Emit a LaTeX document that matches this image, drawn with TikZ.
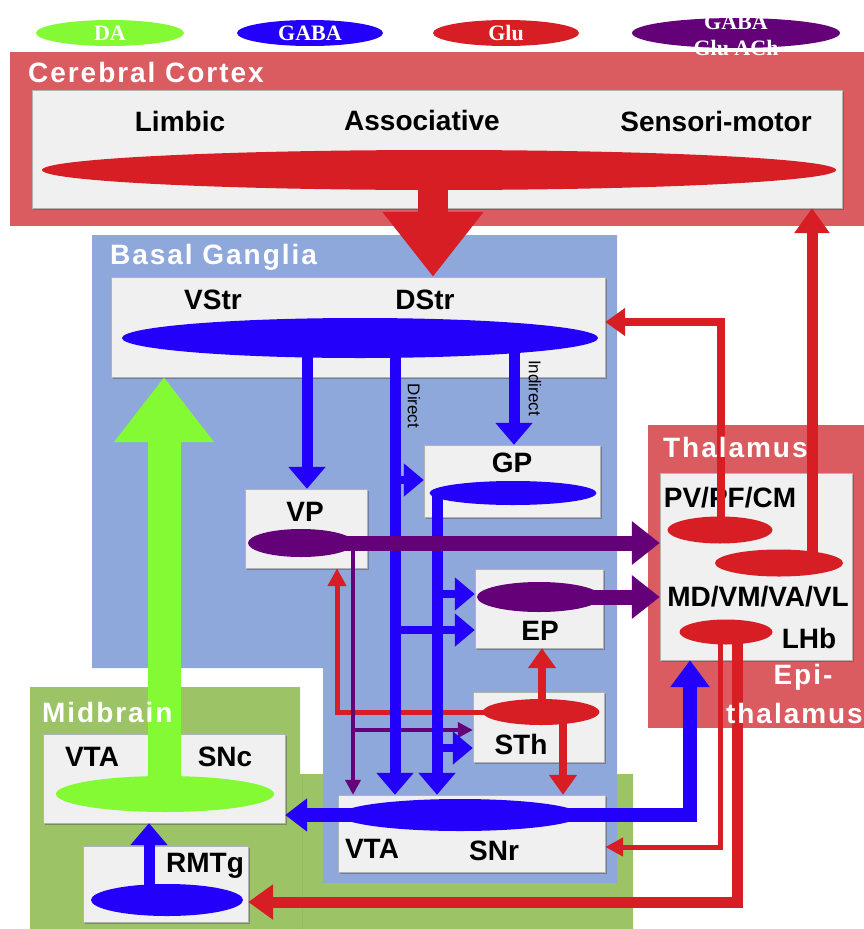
\documentclass[tikz,border=0pt]{standalone}
\usepackage{fontspec}
\setmainfont{Liberation Sans}
\newfontfamily\legfont{Liberation Serif}
\newfontfamily\regfont[LetterSpace=7]{Liberation Sans}
\usetikzlibrary{arrows.meta,shapes.geometric,shadows}
\definecolor{ctxred}{RGB}{218,92,96}
\definecolor{bgblue}{RGB}{143,168,220}
\definecolor{mbgreen}{RGB}{156,196,102}
\definecolor{boxgray}{RGB}{240,240,240}
\definecolor{glured}{RGB}{214,30,36}
\definecolor{gabablue}{RGB}{34,0,250}
\definecolor{mixpurple}{RGB}{100,0,120}
\definecolor{dagreen}{RGB}{132,250,52}

\begin{document}
\begin{tikzpicture}[x=1pt,y=-1pt,
  every node/.style={font=\fontsize{28}{28}\selectfont\bfseries,inner sep=0},
  region/.style={font=\regfont\fontsize{28}{28}\selectfont\bfseries,text=white,anchor=west},
  box/.style={draw=gray!60,fill=boxgray,drop shadow={shadow xshift=2pt,shadow yshift=-2pt,opacity=0.45,fill=black!70}},
  blob/.style={ellipse},
  legend/.style={ellipse,minimum height=26pt,font=\legfont\fontsize{22}{22}\selectfont\bfseries,text=white},
  pathlbl/.style={font=\fontsize{17}{17}\selectfont,rotate=-90},
  cortexArrow/.style={draw=glured,line width=30pt,-{Triangle[width=97pt,length=65pt]}},
  daArrow/.style={draw=dagreen,line width=33pt,-{Triangle[width=96pt,length=65pt]}},
  gabaArrow/.style={draw=gabablue,line width=11pt,-{Triangle[width=36pt,length=22pt]}},
  gabaBranch/.style={draw=gabablue,line width=8pt,-{Triangle[width=32pt,length=20pt]}},
  gabaWide/.style={draw=gabablue,line width=14pt,-{Triangle[width=38pt,length=27pt]}},
  mixArrow/.style={draw=mixpurple,line width=15pt,-{Triangle[width=42pt,length=28pt]}},
  mixThin/.style={draw=mixpurple,line width=4pt,-{Triangle[width=15pt,length=15pt]}},
  gluThin/.style={draw=glured,line width=5pt,-{Triangle[width=18pt,length=18pt]}},
  gluMid/.style={draw=glured,line width=8pt,-{Triangle[width=27pt,length=20pt]}},
  gluWide/.style={draw=glured,line width=11pt,-{Triangle[width=34pt,length=25pt]}}]
\useasboundingbox (0,0) rectangle (864,929);

% regions
\fill[ctxred] (10,52) rectangle (864,226);
\fill[mbgreen] (30,687) -- (300,687) -- (300,774) -- (633,774) -- (633,929) -- (30,929) -- cycle;
\draw[mbgreen!85!black,opacity=0.3] (302,774) -- (302,929);
\fill[bgblue] (92,235) -- (617,235) -- (617,883) -- (323,883) -- (323,668) -- (92,668) -- cycle;
\fill[ctxred] (648,425) rectangle (864,728);

% legend
\node[legend,fill=dagreen,minimum width=148pt] (lgDA) at (110,33) {DA};
\node[legend,fill=gabablue,minimum width=146pt] (lgGABA) at (310,33) {GABA};
\node[legend,fill=glured,minimum width=146pt] (lgGlu) at (506,33) {Glu};
\node[legend,fill=mixpurple,minimum width=208pt,minimum height=30pt] (lgMix) at (736,33) {};
\node[legend,minimum height=0pt] (lgMixA) at (736,22) {GABA};
\node[legend,minimum height=0pt] (lgMixB) at (736,48) {Glu ACh};

% boxes
\node[box,minimum width=810pt,minimum height=118pt] (ctx) at (437,149) {};
\node (lblLimbic) at (180,121) {Limbic};
\node (lblAssoc) at (422,120) {Associative};
\node (lblSensori) at (716,121) {Sensori-motor};

\node[box,minimum width=494pt,minimum height=100pt] (str) at (358,327) {};
\node (lblVStr) at (213,300) {VStr};
\node (lblDStr) at (425,300) {DStr};

\node[box,minimum width=122pt,minimum height=79pt] (vp) at (306,528.5) {};
\node (lblVP) at (305,512) {VP};
\node[box,minimum width=176pt,minimum height=72pt] (gp) at (512,481) {};
\node (lblGP) at (512,463) {GP};
\node[box,minimum width=128pt,minimum height=79pt] (ep) at (539,608.5) {};
\node (lblEP) at (540,631) {EP};
\node[box,minimum width=131pt,minimum height=70pt] (sth) at (538.5,727) {};
\node (lblSTh) at (521,744) {STh};
\node[box,minimum width=267pt,minimum height=77pt] (snr) at (471.5,833.5) {};
\node (lblVTAr) at (372,849) {VTA};
\node (lblSNr) at (494,851) {SNr};

\node[box,minimum width=242pt,minimum height=89pt] (vtasnc) at (164,778.5) {};
\node (lblVTAc) at (92,757) {VTA};
\node (lblSNc) at (225,757) {SNc};
\node[box,minimum width=165pt,minimum height=76pt] (rmtg) at (165.5,884) {};
\node (lblRMTg) at (205,866) {RMTg};

\node[box,minimum width=192pt,minimum height=187pt] (thal) at (756,566.5) {};
\node (lblPV) at (730,498) {PV/PF/CM};
\node (lblMD) at (758,597) {MD/VM/VA/VL};
\node (lblLHb) at (809,638) {LHb};

\node[pathlbl] (lblDirect) at (414,406) {Direct};
\node[pathlbl] (lblIndirect) at (535,388) {Indirect};

% junction points
\coordinate (jDirGP) at (395,480);
\coordinate (jGPEP) at (437,594);
\coordinate (jDirEP) at (395,630);
\coordinate (jGPSTh) at (437,748);
\coordinate (jVPSTh) at (353,730);
\coordinate (jPV) at (721,322);
\coordinate (jLHbA) at (720,847);
\coordinate (jLHbB) at (737,902);
\coordinate (jSNr) at (690,815);

% connectors
\draw[gluThin] (541,712) -- (337,712) -- (337,0 |- vp.south);
\draw[mixThin] (353,543) -- (353,0 |- snr.north);
\draw[mixThin] (jVPSTh) -- (sth.west |- jVPSTh);

\draw[gabaArrow] (307,338) -- (307,0 |- vp.north);
\draw[gabaArrow] (395,338) -- (395,0 |- snr.north);
\draw[gabaArrow] (514,338) -- (514,0 |- gp.north);
\draw[gabaArrow] (437,493) -- (437,0 |- snr.north);
\draw[gabaBranch] (jDirGP) -- (gp.west |- jDirGP);
\draw[gabaBranch] (jGPEP) -- (ep.west |- jGPEP);
\draw[gabaBranch] (jDirEP) -- (ep.west |- jDirEP);
\draw[gabaBranch] (jGPSTh) -- (sth.west |- jGPSTh);

\draw[mixArrow] (301,543) -- (thal.west |- 0,543);
\draw[mixArrow] (539,597) -- (thal.west |- 0,597);

\draw[gluMid] (542,712) -- (542,0 |- ep.south);
\draw[gluMid] (563,712) -- (563,0 |- snr.north);
\draw[gluMid] (721,530) -- (jPV) -- (str.east |- jPV);
\draw[gluWide] (812,563) -- (812,0 |- ctx.south);
\draw[gluThin] (720,632) -- (jLHbA) -- (snr.east |- jLHbA);
\draw[gluWide] (737,632) -- (jLHbB) -- (rmtg.east |- jLHbB);

\draw[gabaWide] (445,815) -- (jSNr) -- (jSNr |- thal.south);
\draw[gabaWide,-{Triangle[width=32pt,length=22pt]}] (445,815) -- (vtasnc.east |- 0,815);
\draw[gabaArrow] (149,900) -- (149,0 |- vtasnc.south);

\draw[cortexArrow] (433,170) -- (433,0 |- str.north);
\draw[daArrow] (164,794) -- (164,0 |- str.south);

% transmitter pools
\node[blob,fill=glured,minimum width=794pt,minimum height=40pt] (ctxEll) at (439,170) {};
\node[blob,fill=gabablue,minimum width=476pt,minimum height=40pt] (strEll) at (360,338) {};
\node[blob,fill=mixpurple,minimum width=106pt,minimum height=28pt] (vpEll) at (301,543) {};
\node[blob,fill=gabablue,minimum width=167pt,minimum height=24pt] (gpEll) at (513,493) {};
\node[blob,fill=mixpurple,minimum width=124pt,minimum height=30pt] (epEll) at (539,597) {};
\node[blob,fill=glured,minimum width=117pt,minimum height=26pt] (sthEll) at (541,712) {};
\node[blob,fill=gabablue,minimum width=240pt,minimum height=32pt] (snrEll) at (460,815) {};
\node[blob,fill=dagreen,minimum width=218pt,minimum height=36pt] (sncEll) at (165,794) {};
\node[blob,fill=gabablue,minimum width=152pt,minimum height=32pt] (rmtgEll) at (167,900) {};
\node[blob,fill=glured,minimum width=105pt,minimum height=27pt] (pvEll) at (720,530) {};
\node[blob,fill=glured,minimum width=128pt,minimum height=27pt] (mdEll) at (779,563) {};
\node[blob,fill=glured,minimum width=93pt,minimum height=25pt] (lhbEll) at (726,632) {};

% region titles
\node[region] (ttlCortex) at (28,72) {Cerebral Cortex};
\node[region] (ttlBG) at (110,257) {Basal Ganglia};
\node[region] (ttlMid) at (42,712) {Midbrain};
\node[region] (ttlThal) at (663,447) {Thalamus};
\node[region,anchor=center] (ttlEpi) at (803,677) {Epi-};
\node[region,anchor=east] (ttlEpi2) at (863,713) {thalamus};
\end{tikzpicture}
\end{document}
